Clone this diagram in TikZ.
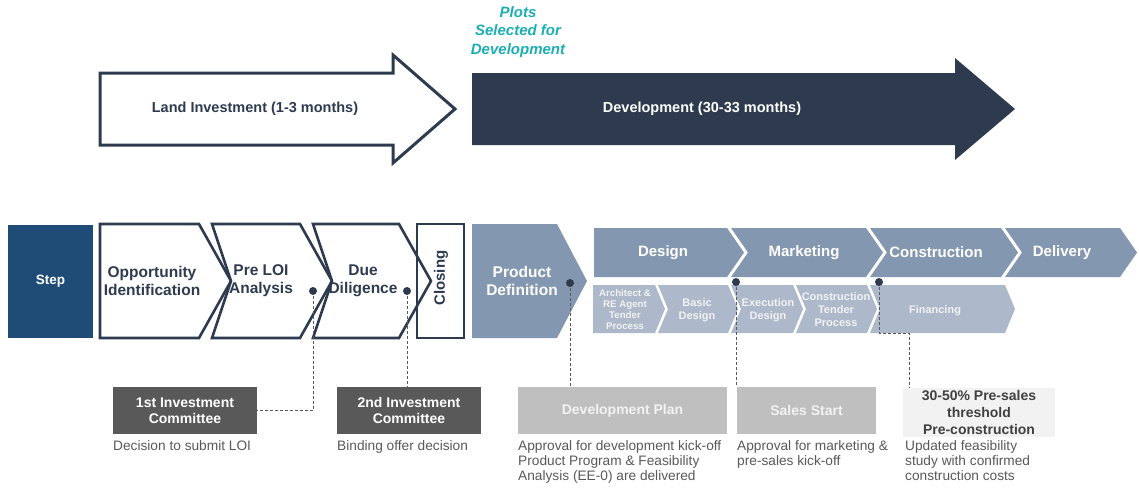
\documentclass[tikz,border=0pt]{standalone}
\usepackage{fontspec}
\setmainfont{Liberation Sans}
\definecolor{navy}{HTML}{2E3B4F}
\definecolor{stepblue}{HTML}{1F4C77}
\definecolor{slate}{HTML}{8497B0}
\definecolor{slatelt}{HTML}{ADB9CA}
\definecolor{teal}{HTML}{1BAFB5}
\definecolor{dkgrey}{HTML}{595959}
\definecolor{ltgrey}{HTML}{BFBFBF}
\definecolor{paleg}{HTML}{F2F2F2}
\definecolor{captg}{HTML}{595959}
\tikzset{
  lbl/.style={font=\bfseries\fontsize{15.5}{18}\selectfont, align=center, inner sep=0pt},
  toplbl/.style={font=\bfseries\fontsize{15}{17}\selectfont, align=center, inner sep=0pt, text=white},
  sublbl/.style={font=\bfseries\fontsize{11}{13}\selectfont, align=center, inner sep=0pt, text=paleg},
  outlined/.style={draw=navy, line width=2.6pt, fill=white, line join=miter},
  boxnode/.style={minimum height=47pt, inner sep=0pt, align=center, font=\bfseries\fontsize{14}{16}\selectfont},
  caption/.style={anchor=north west, align=left, inner sep=0pt, text=captg, font=\fontsize{13.7}{15}\selectfont},
  dotnode/.style={circle, fill=navy, minimum size=8pt, inner sep=0pt},
  dsh/.style={draw=dkgrey, line width=0.9pt, dash pattern=on 3pt off 2pt},
}
\begin{document}
\begin{tikzpicture}[x=1pt,y=-1pt]
\path[use as bounding box, fill=white] (0,0) rectangle (1139,488);

% ---- top arrows
\draw[outlined, line width=3pt] (100,73) -- (393,73) -- (393,55) -- (455,109) -- (393,163) -- (393,145) -- (100,145) -- cycle;
\node[lbl, text=navy, font=\bfseries\fontsize{14.5}{17}\selectfont] (land) at (255,109) {Land Investment (1-3 months)};
\fill[navy] (472,73) -- (955,73) -- (955,58) -- (1015,109) -- (955,160) -- (955,145) -- (472,145) -- cycle;
\node[lbl, text=white, font=\bfseries\fontsize{14.5}{17}\selectfont] (dev) at (702,109) {Development (30-33 months)};
\node[lbl, text=teal, font=\bfseries\itshape\fontsize{15}{18.5}\selectfont] (plots) at (518,32) {Plots\\Selected for\\Development};

% ---- step row
\fill[stepblue] (8,225) rectangle (93,338);
\node[lbl, text=white, font=\bfseries\fontsize{13.5}{16}\selectfont] (step) at (50.5,281) {Step};

\draw[outlined] (100,224) -- (199,224) -- (231,281) -- (199,338) -- (100,338) -- cycle;
\draw[outlined] (212,224) -- (300,224) -- (332,281) -- (300,338) -- (212,338) -- (231,281) -- cycle;
\draw[outlined] (313,224) -- (399,224) -- (431,281) -- (399,338) -- (313,338) -- (332,281) -- cycle;
\draw[draw=navy, line width=2.6pt] (417,224) rectangle (464,338);
\node[lbl, text=navy] (opp) at (152,281) {Opportunity\\Identification};
\node[lbl, text=navy] (prel) at (261,281) {Pre LOI\\Analysis};
\node[lbl, text=navy] (due) at (363,281) {Due\\Diligence};
\node[lbl, text=navy, rotate=90, font=\bfseries\fontsize{15}{17}\selectfont] (clo) at (441,278) {Closing};

\fill[slate] (472,224) -- (557,224) -- (587,281) -- (557,338) -- (472,338) -- cycle;
\node[lbl, text=white] (prod) at (522,281) {Product\\Definition};

% ---- top phase row
\fill[slate] (594,228) -- (727,228) -- (744,252.5) -- (727,277) -- (594,277) -- cycle;
\fill[slate] (731,228) -- (866,228) -- (883,252.5) -- (866,277) -- (731,277) -- (748,252.5) -- cycle;
\fill[slate] (870,228) -- (1001,228) -- (1018,252.5) -- (1001,277) -- (870,277) -- (887,252.5) -- cycle;
\fill[slate] (1005,228) -- (1120,228) -- (1137,252.5) -- (1120,277) -- (1005,277) -- (1022,252.5) -- cycle;
\node[toplbl] (design) at (663,252.5) {Design};
\node[toplbl] (mkt) at (804,252.5) {Marketing};
\node[toplbl] (cons) at (936,252.5) {Construction};
\node[toplbl] (deliv) at (1062,252.5) {Delivery};

% ---- sub row
\fill[slatelt] (593,285) -- (655,285) -- (665,309) -- (655,333) -- (593,333) -- cycle;
\fill[slatelt] (658,285) -- (728,285) -- (738,309) -- (728,333) -- (658,333) -- (668,309) -- cycle;
\fill[slatelt] (731,285) -- (793,285) -- (803,309) -- (793,333) -- (731,333) -- (741,309) -- cycle;
\fill[slatelt] (796,285) -- (867,285) -- (877,309) -- (867,333) -- (796,333) -- (806,309) -- cycle;
\fill[slatelt] (870,285) -- (1005,285) -- (1015,309) -- (1005,333) -- (870,333) -- (880,309) -- cycle;
\node[sublbl, font=\bfseries\fontsize{9.7}{11}\selectfont] (arch) at (625,309.5) {Architect \&\\RE Agent\\Tender\\Process};
\node[sublbl] (basic) at (697,310.5) {Basic\\Design};
\node[sublbl] (exec) at (768,310.5) {Execution\\Design};
\node[sublbl] (ctp) at (836,310) {Construction\\Tender\\Process};
\node[sublbl] (fin) at (935,311) {Financing};

% ---- milestone boxes
\node[boxnode, fill=dkgrey, text=white, minimum width=144pt] (ic1) at (185,410.5) {1st Investment\\Committee};
\node[boxnode, fill=dkgrey, text=white, minimum width=144pt] (ic2) at (409,410.5) {2nd Investment\\Committee};
\node[boxnode, fill=ltgrey, text=paleg, minimum width=209pt] (dplan) at (622.5,410.5) {Development Plan};
\node[boxnode, fill=ltgrey, text=paleg, minimum width=139pt] (sales) at (806.5,410.5) {Sales Start};
\node[boxnode, fill=paleg, text=black!75, minimum width=152pt, minimum height=49pt, font=\bfseries\fontsize{14}{17}\selectfont] (pres) at (979,412.5) {30-50\% Pre-sales\\threshold\\Pre-construction};

% ---- captions
\node[caption] (c1) at (113,440) {Decision to submit LOI};
\node[caption] (c2) at (337,440) {Binding offer decision};
\node[caption] (c3) at (518,440) {Approval for development kick-off\\Product Program \& Feasibility\\Analysis (EE-0) are delivered};
\node[caption] (c4) at (737,440) {Approval for marketing \&\\pre-sales kick-off};
\node[caption] (c5) at (905,440) {Updated feasibility\\study with confirmed\\construction costs};

% ---- dots and connectors
\coordinate (dA) at (313,291);
\coordinate (dB) at (407,291);
\coordinate (dP) at (570,283);
\coordinate (dM) at (736,282);
\coordinate (dC) at (879,282);
\coordinate (cturn) at (909,333);
\draw[dsh] (dA) |- (ic1.east);
\draw[dsh] (dB) -- (dB |- ic2.north);
\draw[dsh] (dP) -- (dP |- dplan.north);
\draw[dsh] (dM) -- (dM |- sales.north);
\draw[dsh] (dC) |- (cturn) -- (cturn |- pres.north);
\node[dotnode] (nA) at (dA) {};
\node[dotnode] (nB) at (dB) {};
\node[dotnode] (nP) at (dP) {};
\node[dotnode] (nM) at (dM) {};
\node[dotnode] (nC) at (dC) {};
\end{tikzpicture}
\end{document}
